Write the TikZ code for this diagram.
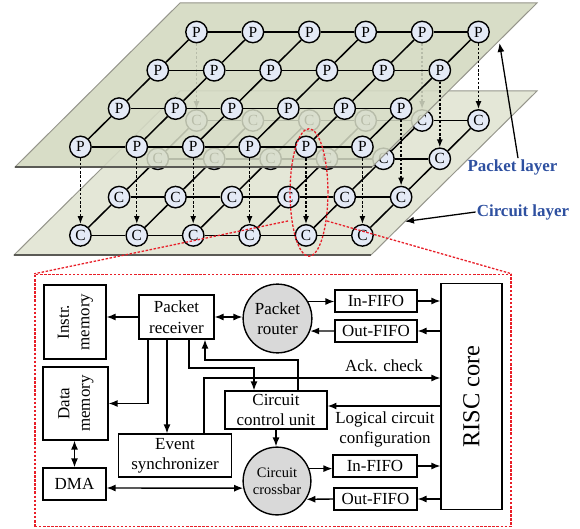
\documentclass[tikz,border=0pt]{standalone}
\usepackage{fontspec}
\setmainfont{Liberation Serif}
\usepackage{graphicx}
\usetikzlibrary{arrows.meta,shapes.geometric,calc}
\pgfdeclarelayer{lower}
\pgfdeclarelayer{upper}
\pgfsetlayers{lower,upper,main}
\definecolor{topplane}{RGB}{216,221,199}
\definecolor{lowplane}{RGB}{228,231,215}
\definecolor{nodefill}{RGB}{228,234,246}
\definecolor{labelblue}{RGB}{46,80,160}
\definecolor{redd}{RGB}{232,30,40}
\definecolor{grayc}{RGB}{217,217,217}
\definecolor{planeedge}{RGB}{150,150,140}
\definecolor{planedark}{RGB}{90,90,85}
\begin{document}
\begin{tikzpicture}[x=1bp,y=-1bp,
  pn/.style={circle,draw=black,line width=1.4,fill=nodefill,minimum size=21.5,inner sep=0,font=\fontsize{15.5}{15.5}\selectfont},
  grid/.style={line width=1.5,black},
  dasharr/.style={line width=1.4,dash pattern=on 2.5pt off 1.8pt,-{Latex[length=8pt,width=6pt]}},
  box/.style={draw,line width=1.4,inner sep=0,align=center,font=\fontsize{17}{20.5}\selectfont},
  circ/.style={circle,draw,line width=1.4,fill=grayc,inner sep=0,align=center,font=\fontsize{17}{20.5}\selectfont},
  txt/.style={inner sep=0,align=center,font=\fontsize{17}{20}\selectfont},
  arr/.style={line width=1.4,-{Latex[length=9pt,width=7pt]}},
  darr/.style={line width=1.4,{Latex[length=9pt,width=7pt]}-{Latex[length=9pt,width=7pt]}},
  lbl/.style={font=\bfseries\fontsize{17}{17}\selectfont,text=labelblue,inner sep=1},
  reddash/.style={draw=redd,line width=1.3,dash pattern=on 2.5pt off 1.6pt}]
\useasboundingbox (0,0) rectangle (580,529);

% ---- P nodes (main layer)
\foreach \i in {0,...,3}{\foreach \j in {0,...,5}{
  \pgfmathsetmacro\xx{196.5+56.4*\j-38.7*\i}
  \pgfmathsetmacro\yy{32+38.3*\i}
  \node[pn] (p-\i-\j) at (\xx,\yy) {P};
}}

% ---- lower layer: planes, circuit grid
\begin{pgfonlayer}{lower}
  \fill[topplane] (180,3) -- (537,3) -- (372,167) -- (15,167) -- cycle;
  \filldraw[fill=lowplane,draw=planeedge,line width=1] (180,91) -- (537,91) -- (371,255) -- (14,255) -- cycle;
  \draw[planedark,line width=1.5] (14,255) -- (371,255);
  \foreach \i in {0,...,3}{\foreach \j in {0,...,5}{
    \pgfmathsetmacro\xx{196.5+56.4*\j-38.7*\i}
    \pgfmathsetmacro\yy{120.5+38.3*\i}
    \node[pn] (c-\i-\j) at (\xx,\yy) {C};
  }}
  \foreach \i in {0,...,3}{\foreach \j in {0,...,4}{
    \pgfmathtruncatemacro\k{\j+1}
    \draw[grid] (c-\i-\j) -- (c-\i-\k);
  }}
  \foreach \i in {0,...,2}{\foreach \j in {0,...,5}{
    \pgfmathtruncatemacro\k{\i+1}
    \draw[grid] (c-\i-\j) -- (c-\k-\j);
  }}
  \draw[dasharr] (p-0-0) -- (c-0-0);
  \draw[dasharr] (p-0-4) -- (c-0-4);
\end{pgfonlayer}

% ---- upper layer: translucent packet plane
\begin{pgfonlayer}{upper}
  \filldraw[fill=topplane,fill opacity=0.85,draw=planeedge,line width=1] (180,3) -- (537,3) -- (372,167) -- (15,167) -- cycle;
  \draw[planedark,line width=1.5] (15,167) -- (372,167);
\end{pgfonlayer}

% ---- packet grid edges
\foreach \i in {0,...,3}{\foreach \j in {0,...,4}{
  \pgfmathtruncatemacro\k{\j+1}
  \draw[grid] (p-\i-\j) -- (p-\i-\k);
}}
\foreach \i in {0,...,2}{\foreach \j in {0,...,5}{
  \pgfmathtruncatemacro\k{\i+1}
  \draw[grid] (p-\i-\j) -- (p-\k-\j);
}}
% ---- vertical dashed arrows
\foreach \j in {0,...,5}{ \draw[dasharr] (p-3-\j) -- (c-3-\j); }
\foreach \i in {0,1,2}{ \draw[dasharr] (p-\i-5) -- (c-\i-5); }

% ---- layer labels
\node[lbl] (pl) at (512.5,167) {Packet layer};
\node[lbl] (cl) at (523,212) {Circuit layer};
\coordinate (ptip) at (499.5,43);
\coordinate (ctip) at (405,221.5);
\draw[arr,line width=1.3] (pl.north -| 518,0) -- (ptip);
\draw[arr,line width=1.3] (cl.west) -- (ctip);

% ---- zoom ellipse, lines and frame
\node[reddash,ellipse,minimum width=38,minimum height=128,inner sep=0] (ell) at (309,192.5) {};
\node[reddash,minimum width=478,minimum height=253,inner sep=0] (frame) at (273,400.5) {};
\coordinate (el) at (288,221);
\coordinate (er) at (327,221);
\draw[reddash] (el) -- (frame.north west);
\draw[reddash] (er) -- (frame.north east);

% ---- block diagram
\node[box,minimum width=62,minimum height=74] (instr) at (75,322) {\rotatebox{90}{\begin{tabular}{@{}c@{}}Instr.\\memory\end{tabular}}};
\node[box,minimum width=65,minimum height=73] (datam) at (75.5,403.5) {\rotatebox{90}{\begin{tabular}{@{}c@{}}Data\\memory\end{tabular}}};
\node[box,minimum width=63,minimum height=32] (dma) at (74.5,484) {DMA};
\node[box,minimum width=75,minimum height=44] (prx) at (176.5,317) {Packet\\receiver};
\node[circ,minimum size=69] (prt) at (277.5,318.5) {Packet\\router};
\node[box,minimum width=82,minimum height=22] (fin1) at (376,301) {In-FIFO};
\node[box,minimum width=82,minimum height=22] (fout1) at (376,331) {Out-FIFO};
\node[box,minimum width=61,minimum height=227,font=\fontsize{24.5}{26}\selectfont] (risc) at (471.5,396.5) {\rotatebox{90}{RISC core}};
\node[box,minimum width=102,minimum height=38] (ccu) at (276,410) {Circuit\\control unit};
\node[box,minimum width=114,minimum height=43] (evs) at (175,455.5) {Event\\synchronizer};
\node[circ,minimum size=68,font=\fontsize{14.5}{17}\selectfont] (xbar) at (277,481) {Circuit\\crossbar};
\node[box,minimum width=84,minimum height=22] (fin2) at (375,466) {In-FIFO};
\node[box,minimum width=83,minimum height=22] (fout2) at (375.5,499) {Out-FIFO};
\node[txt] (ack) at (384,366) {Ack. check};
\node[txt] (lcc) at (385,429) {Logical circuit\\configuration};

\draw[arr] (prx.west) -- (prx.west -| instr.east);
\draw[darr] (prx.east) -- (prx.east -| prt.west);
\draw[arr] (prt.29) -- (prt.29 -| fin1.west);
\draw[arr] (fin1.east) -- (fin1.east -| risc.west);
\draw[arr] (fout1.east -| risc.west) -- (fout1.east);
\draw[arr] (fout1.west) -- (prt.-21);
\draw[arr] (evs.north -| 204,0) |- (risc.west |- 0,378);
\draw[arr] (prx.south -| 148,0) |- (datam.east);
\draw[arr] (prx.south -| 167,0) -- (evs.north -| 167,0);
\draw[arr] (prx.south -| 189,0) |- (254,368) -- (ccu.north -| 254,0);
\draw[arr] (ccu.north -| 298,0) |- (205,360) -- (prx.south -| 205,0);
\draw[arr] (risc.west |- 0,406) -- (ccu.east |- 0,406);
\draw[arr] (ccu.south) -- (ccu.south |- xbar.north);
\draw[arr] (xbar.21) -- (xbar.21 -| fin2.west);
\draw[arr] (fin2.east) -- (fin2.east -| risc.west);
\draw[arr] (fout2.east -| risc.west) -- (fout2.east);
\draw[arr] (fout2.west) -- (xbar.-32);
\draw[darr] (dma.north) -- (dma.north |- datam.south);
\draw[darr] (dma.east |- 0,488) -- (xbar.192);
\end{tikzpicture}
\end{document}
